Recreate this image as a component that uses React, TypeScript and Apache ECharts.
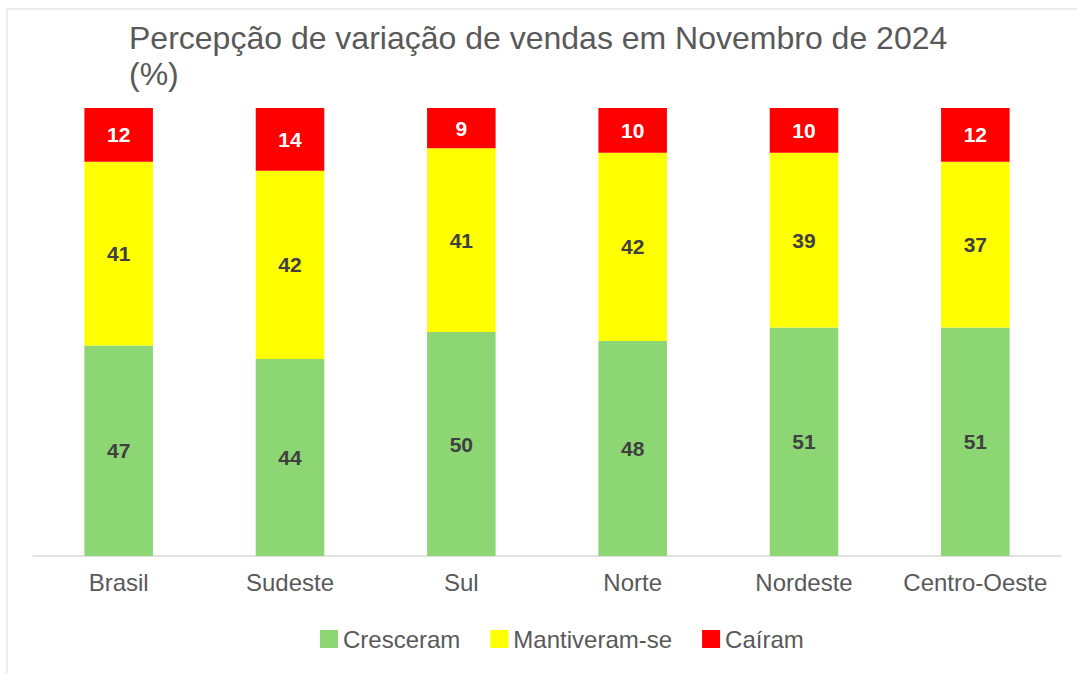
import React, { useEffect, useRef } from "react";
import * as echarts from "echarts";

const categories = ["Brasil", "Sudeste", "Sul", "Norte", "Nordeste", "Centro-Oeste"];
const cresceram = [47, 44, 50, 48, 51, 51];
const mantiveram = [41, 42, 41, 42, 39, 37];
const cairam = [12, 14, 9, 10, 10, 12];
const seriesNames = ["Cresceram", "Mantiveram-se", "Caíram"];
const titleText = "Percepção de variação de vendas em Novembro de 2024\n(%)";

export default function App() {
  const ref = useRef<HTMLDivElement>(null);
  useEffect(() => {
    if (!ref.current) return;
    const chart = echarts.init(ref.current, null, { renderer: "svg" });
    const font = "'Liberation Sans', Arial, sans-serif";
    const mk = (name: string, data: number[], color: string, labelColor: string) => ({
      name,
      type: "bar",
      stack: "total",
      data,
      barWidth: "40%",
      itemStyle: { color },
      label: {
        show: true,
        position: "inside",
        color: labelColor,
        fontWeight: "bold",
        fontSize: 21,
        fontFamily: font,
      },
    });
    chart.setOption({
      animation: false,
      backgroundColor: "#ffffff",
      textStyle: { fontFamily: font },
      graphic: [
        {
          type: "rect",
          shape: { x: 7, y: 9, width: 1200, height: 800 },
          style: { fill: "none", stroke: "#e8e8e8", lineWidth: 1.5 },
          silent: true,
        },
      ],
      title: {
        text: titleText,
        left: 124,
        top: 15,
        textStyle: {
          fontSize: 32,
          fontWeight: "normal",
          color: "#595959",
          lineHeight: 36,
          fontFamily: font,
        },
      },
      legend: {
        data: seriesNames,
        left: 315,
        top: 622,
        itemWidth: 18,
        itemHeight: 18,
        itemGap: 30,
        icon: "rect",
        textStyle: { fontSize: 24, color: "#595959", fontFamily: font },
      },
      grid: { left: 33, right: 16, top: 108, bottom: 117, containLabel: false },
      xAxis: {
        type: "category",
        data: categories,
        axisLine: { lineStyle: { color: "#d9d9d9", width: 1.5 } },
        axisTick: { show: false },
        axisLabel: { interval: 0, fontSize: 24, color: "#595959", margin: 14, fontFamily: font },
      },
      yAxis: {
        type: "value",
        min: 0,
        max: 100,
        show: false,
        splitLine: { show: false },
      },
      series: [
        mk(seriesNames[0], cresceram, "#8cd674", "#404040"),
        mk(seriesNames[1], mantiveram, "#ffff00", "#404040"),
        mk(seriesNames[2], cairam, "#ff0000", "#ffffff"),
      ],
    });
    return () => chart.dispose();
  }, []);
  return (
    <div
      ref={ref}
      style={{ position: "fixed", left: 0, top: 0, width: 1077, height: 673 }}
    />
  );
}
